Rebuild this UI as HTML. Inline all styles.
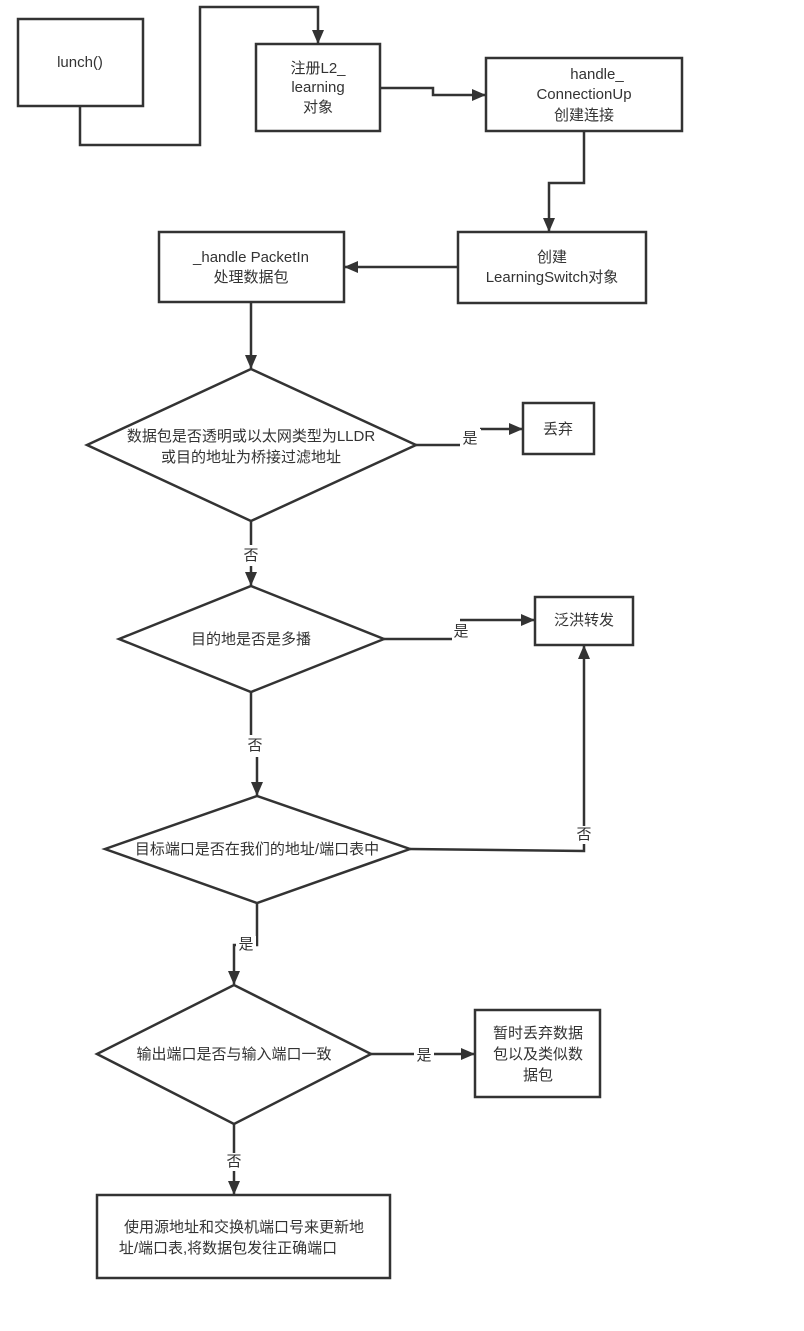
<!DOCTYPE html>
<html><head><meta charset="utf-8"><style>
html,body{margin:0;padding:0;background:#fff;}
svg text{font-family:"Liberation Sans","Noto Sans CJK SC",sans-serif;font-size:15px;fill:#333;text-anchor:middle;dominant-baseline:middle;}
</style></head><body>
<svg width="804" height="1326" viewBox="0 0 804 1326" xmlns="http://www.w3.org/2000/svg">
<defs>
<marker id="b" markerWidth="14" markerHeight="12" refX="13" refY="6" orient="auto" markerUnits="userSpaceOnUse"><path d="M0,0 L14,6 L0,12 z" fill="#333"/></marker></defs>
<g fill="none" stroke="#333" stroke-width="2.5">
<rect x="18" y="19" width="125" height="87" fill="#fff"/>
<rect x="256" y="44" width="124" height="87" fill="#fff"/>
<rect x="486" y="58" width="196" height="73" fill="#fff"/>
<rect x="458" y="232" width="188" height="71" fill="#fff"/>
<rect x="159" y="232" width="185" height="70" fill="#fff"/>
<rect x="523" y="403" width="71" height="51" fill="#fff"/>
<rect x="535" y="597" width="98" height="48" fill="#fff"/>
<rect x="475" y="1010" width="125" height="87" fill="#fff"/>
<rect x="97" y="1195" width="293" height="83" fill="#fff"/>
<polygon points="87,445 251,369 416,445 251,521" fill="#fff"/>
<polygon points="119,639 251,586 384,639 251,692" fill="#fff"/>
<polygon points="105,849 257,796 410,849 257,903" fill="#fff"/>
<polygon points="97,1054 234,985 371,1054 234,1124" fill="#fff"/>
<polyline points="80,106 80,145 200,145 200,7 318,7 318,43" marker-end="url(#b)"/>
<polyline points="380,88 433,88 433,95 485,95" marker-end="url(#b)"/>
<polyline points="584,131 584,183 549,183 549,231" marker-end="url(#b)"/>
<polyline points="458,267 345,267" marker-end="url(#b)"/>
<polyline points="251,302 251,368" marker-end="url(#b)"/>
<polyline points="416,445 460,445"/>
<polyline points="480,429 522,429" marker-end="url(#b)"/>
<polyline points="251,521 251,545"/>
<polyline points="251,566 251,585" marker-end="url(#b)"/>
<polyline points="384,639 452,639"/>
<polyline points="460,620 534,620" marker-end="url(#b)"/>
<polyline points="251,692 251,735"/>
<polyline points="257,757 257,795" marker-end="url(#b)"/>
<polyline points="410,849 584,851 584,646" marker-end="url(#b)"/>
<polyline points="257,903 257,945 234,945 234,984" marker-end="url(#b)"/>
<polyline points="371,1054 474,1054" marker-end="url(#b)"/>
<polyline points="234,1124 234,1194" marker-end="url(#b)"/>
</g>
<text x="80" y="63">lunch()</text>
<text x="318" y="69">注册L2_</text><text x="318" y="88">learning</text><text x="318" y="108">对象</text>
<text x="597" y="75">handle_</text><text x="584" y="95">ConnectionUp</text><text x="584" y="116">创建连接</text>
<text x="552" y="258">创建</text><text x="552" y="278">LearningSwitch对象</text>
<text x="251" y="258">_handle PacketIn</text><text x="251" y="278">处理数据包</text>
<text x="251" y="437">数据包是否透明或以太网类型为LLDR</text><text x="251" y="458">或目的地址为桥接过滤地址</text>
<text x="558" y="430">丢弃</text>
<text x="251" y="640">目的地是否是多播</text>
<text x="584" y="621">泛洪转发</text>
<text x="257" y="850">目标端口是否在我们的地址/端口表中</text>
<text x="234" y="1055">输出端口是否与输入端口一致</text>
<text x="538" y="1034">暂时丢弃数据</text><text x="538" y="1055">包以及类似数</text><text x="538" y="1076">据包</text>
<text x="244" y="1228">使用源地址和交换机端口号来更新地</text><text x="228" y="1249">址/端口表,将数据包发往正确端口</text>
<g>
<rect x="461" y="429" width="20" height="18" fill="#fff"/><text x="470" y="439">是</text>
<text x="251" y="556">否</text>
<rect x="452" y="622" width="20" height="18" fill="#fff"/><text x="461" y="632">是</text>
<text x="255" y="746">否</text>
<rect x="574" y="826" width="20" height="18" fill="#fff"/><text x="584" y="835">否</text>
<rect x="236" y="936" width="20" height="18" fill="#fff"/><text x="246" y="945">是</text>
<rect x="414" y="1047" width="20" height="18" fill="#fff"/><text x="424" y="1056">是</text>
<rect x="224" y="1153" width="20" height="18" fill="#fff"/><text x="234" y="1162">否</text>
</g>
</svg>
</body></html>
